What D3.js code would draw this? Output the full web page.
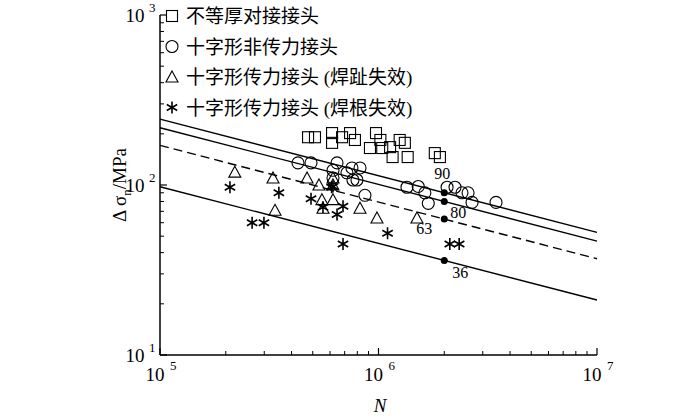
<!DOCTYPE html>
<html><head><meta charset="utf-8">
<script src="https://cdn.jsdelivr.net/npm/d3@7"></script>
<style>body{margin:0;background:#fff}text{font-family:"Liberation Serif","Noto Sans CJK SC",serif}</style>
</head><body><svg id="c" width="700" height="419"></svg>
<script>
// data: [N, stress range MPa]
var squares = [[4.76e5,191],[5.12e5,191],[6.13e5,202],[6.13e5,177],[6.81e5,191],[7.41e5,202],[7.8e5,184],[9.74e5,202],[9.14e5,165],[1.02e6,184],[1.04e6,165],[1.13e6,167],[1.16e6,146],[1.25e6,184],[1.32e6,177],[1.36e6,146],[1.81e6,154],[1.91e6,146]];
var circles = [[4.28e5,135],[4.91e5,135],[6.46e5,135],[6.19e5,122],[6.19e5,110],[7.17e5,118],[7.56e5,126],[8.23e5,126],[7.64e5,107],[7.97e5,107],[8.67e5,87],[1.35e6,97],[1.52e6,98],[1.63e6,90],[1.69e6,78],[2.06e6,97],[2.24e6,97],[2.41e6,90],[2.57e6,90],[2.68e6,79],[3.45e6,79]];
var triangles = [[2.2e5,119],[3.29e5,110],[4.71e5,110],[5.34e5,100],[6.19e5,110],[6.19e5,100],[3.36e5,71],[5.51e5,82],[6.19e5,82],[5.57e5,73],[8.23e5,73],[9.84e5,64],[1.5e6,64]];
var stars = [[2.09e5,97],[3.5e5,90],[4.91e5,83],[5.57e5,74],[6.19e5,98],[6.1e5,97],[6.88e5,75],[6.46e5,67],[2.64e5,60],[2.99e5,60],[6.88e5,45],[1.1e6,52],[2.12e6,45],[2.34e6,45]];
var fatClasses = [90, 80, 63, 36];
var classDash = [false, false, true, false];
var legendLabels = ["不等厚对接接头", "十字形非传力接头", "十字形传力接头 (焊趾失效)", "十字形传力接头 (焊根失效)"];

var svg = d3.select("#c");
var x = d3.scaleLog().domain([1e5, 1e7]).range([160, 597]);
var y = d3.scaleLog().domain([10, 1000]).range([355, 15]);
var g = svg.append("g");

function minorTicks(lo, hi) {
  var t = [];
  for (var e = lo; e < hi; e++) for (var k = 2; k < 10; k++) t.push(k * Math.pow(10, e));
  return t;
}

// x axis, ticks pointing inward
var xa = g.append("g").attr("transform", "translate(0,355)");
xa.append("line").attr("x1", 160).attr("x2", 597).attr("stroke", "#000").attr("stroke-width", 1.5);
xa.selectAll(".mj").data([1e5, 1e6, 1e7]).enter().append("line")
  .attr("x1", d => x(d)).attr("x2", d => x(d)).attr("y2", -7).attr("stroke", "#000").attr("stroke-width", 1.2);
xa.selectAll(".mn").data(minorTicks(5, 7)).enter().append("line")
  .attr("x1", d => x(d)).attr("x2", d => x(d)).attr("y2", -4).attr("stroke", "#000");
[5, 6, 7].forEach(function(e) {
  xa.append("text").attr("x", x(Math.pow(10, e)) - 5).attr("y", 26).attr("text-anchor", "middle").attr("font-size", 19).text("10");
  xa.append("text").attr("x", x(Math.pow(10, e)) + 10).attr("y", 15).attr("font-size", 13).text(e);
});
xa.append("text").attr("x", 380).attr("y", 57).attr("text-anchor", "middle").attr("font-size", 19).attr("font-style", "italic").text("N");

// y axis
var ya = g.append("g").attr("transform", "translate(160,0)");
ya.append("line").attr("y1", 15).attr("y2", 355).attr("stroke", "#000").attr("stroke-width", 1.5);
ya.selectAll(".mj").data([10, 100, 1000]).enter().append("line")
  .attr("y1", d => y(d)).attr("y2", d => y(d)).attr("x2", 7).attr("stroke", "#000").attr("stroke-width", 1.2);
ya.selectAll(".mn").data(minorTicks(1, 3)).enter().append("line")
  .attr("y1", d => y(d)).attr("y2", d => y(d)).attr("x2", 4).attr("stroke", "#000");
[1, 2, 3].forEach(function(e) {
  ya.append("text").attr("x", -25).attr("y", y(Math.pow(10, e)) + 7).attr("text-anchor", "middle").attr("font-size", 19).text("10");
  ya.append("text").attr("x", -11).attr("y", y(Math.pow(10, e)) - 3).attr("font-size", 13).text(e);
});
var yl = svg.append("text").attr("transform", "translate(126,185) rotate(-90)").attr("text-anchor", "middle").attr("font-size", 19);
yl.append("tspan").text("Δ σ");
yl.append("tspan").attr("font-size", 13).attr("dy", 5).text("n");
yl.append("tspan").attr("dy", -5).text("/MPa");

// S-N lines, slope m=3 through the class value at 2e6 cycles
fatClasses.forEach(function(c, i) {
  var f = function(n) { return c * Math.pow(2e6 / n, 1 / 3); };
  g.append("line").attr("x1", x(1e5)).attr("y1", y(f(1e5))).attr("x2", x(1e7)).attr("y2", y(f(1e7)))
    .attr("stroke", "#000").attr("stroke-width", 1.4).attr("stroke-dasharray", classDash[i] ? "9,5" : null);
  g.append("circle").attr("cx", x(2e6)).attr("cy", y(c)).attr("r", 3.5).attr("fill", "#000");
});
var lab = [[90, -2, -14], [80, 14, 17], [63, -20, 15], [36, 16, 18]];
lab.forEach(function(l) {
  g.append("text").attr("x", x(2e6) + l[1]).attr("y", y(l[0]) + l[2]).attr("text-anchor", "middle").attr("font-size", 16).text(l[0]);
});

function drawSym(sel, type) {
  if (type === 0) sel.append("rect").attr("x", -5.5).attr("y", -5.5).attr("width", 11).attr("height", 11).attr("fill", "none").attr("stroke", "#000").attr("stroke-width", 1.1);
  else if (type === 1) sel.append("circle").attr("r", 6).attr("fill", "none").attr("stroke", "#000").attr("stroke-width", 1.1);
  else if (type === 2) sel.append("path").attr("d", "M0,-6L6,5L-6,5Z").attr("fill", "none").attr("stroke", "#000").attr("stroke-width", 1.1);
  else sel.append("path").attr("d", "M0,-6V6M-5.2,-3L5.2,3M-5.2,3L5.2,-3").attr("stroke", "#000").attr("stroke-width", 1.6);
}
[squares, circles, triangles, stars].forEach(function(set, t) {
  set.forEach(function(p) {
    drawSym(g.append("g").attr("transform", "translate(" + x(p[0]) + "," + y(p[1]) + ")"), t);
  });
});

// legend
legendLabels.forEach(function(s, i) {
  var yy = 16 + i * 30.5;
  drawSym(svg.append("g").attr("transform", "translate(172," + yy + ")"), i);
  svg.append("text").attr("x", 186).attr("y", yy + 7).attr("font-size", 19).text(s);
});
</script></body></html>
